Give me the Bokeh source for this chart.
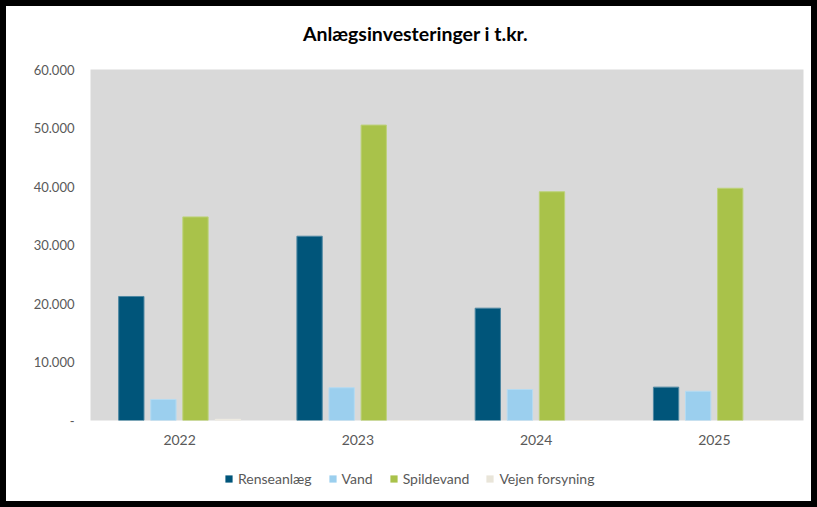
from bokeh.plotting import figure
from bokeh.layouts import column
from bokeh.models import ColumnDataSource, FactorRange, Range1d, FixedTicker, Legend, LegendItem, Label
from bokeh.transform import dodge
from bokeh.embed import file_html
from bokeh.resources import INLINE

years = ["2022", "2023", "2024", "2025"]
series_names = ["Renseanlæg", "Vand", "Spildevand", "Vejen forsyning"]
renseanlaeg = [21200, 31500, 19200, 5700]
vand = [3600, 5600, 5300, 5000]
spildevand = [34800, 50500, 39100, 39700]
vejen_forsyning = [200, 0, 0, 0]
y_ticks = [0, 10000, 20000, 30000, 40000, 50000, 60000]
title_text = "Anlægsinvesteringer i t.kr."

colors = ["#00557A", "#9BCFEE", "#A9C24A", "#E9E5D9"]
line_colors = ["#4D87A2", "#B5DBF2", "#BDD27A", "#EFECE3"]

src = ColumnDataSource(dict(year=years, r=renseanlaeg, v=vand, s=spildevand, vf=vejen_forsyning))

FONT = "Lato"
GRAY = "#595959"
BORDER = "6px solid black"


def strip(height, borders):
    f = figure(width=817, height=height, output_backend="svg", toolbar_location=None,
               x_axis_location=None, y_axis_location=None, min_border=0,
               x_range=FactorRange(*years, range_padding=0), y_range=Range1d(1e6, 2e6))
    f.styles = dict({b: BORDER for b in borders}, **{"box-sizing": "border-box"})
    f.grid.visible = False
    f.outline_line_color = None
    f.background_fill_color = "white"
    f.border_fill_color = "white"
    return f


# title strip
top = strip(50, ["border-top", "border-left", "border-right"])
top.add_layout(Label(x=325, y=23, x_units="screen", y_units="screen", text=title_text,
                     text_align="center", text_baseline="middle", text_font=FONT,
                     text_font_size="19.5px", text_font_style="bold", text_color="black"))

# main chart
p = figure(width=817, height=405, x_range=FactorRange(*years, range_padding=0),
           y_range=Range1d(0, 60000), output_backend="svg", toolbar_location=None,
           min_border_left=84, min_border_right=20, min_border_top=19, min_border_bottom=35)
p.styles = {"border-left": BORDER, "border-right": BORDER, "box-sizing": "border-box"}
p.background_fill_color = "#D9D9D9"
p.border_fill_color = "white"
p.outline_line_color = None
p.xgrid.grid_line_color = None
p.ygrid.grid_line_color = None

offsets = [-0.271, -0.091, 0.089, 0.271]
cols = ["r", "v", "s", "vf"]
for off, col, fc, lc in zip(offsets, cols, colors, line_colors):
    p.vbar(x=dodge("year", off, range=p.x_range), top=col, width=0.142, source=src,
           fill_color=fc, line_color=lc, line_width=1)

p.yaxis.ticker = FixedTicker(ticks=y_ticks)
p.yaxis.major_label_overrides = {t: ("-" if t == 0 else f"{t:,}".replace(",", ".")) for t in y_ticks}
for ax in (p.xaxis[0], p.yaxis[0]):
    ax.axis_line_color = None
    ax.major_tick_line_color = None
    ax.minor_tick_line_color = None
    ax.major_tick_out = 0
    ax.major_tick_in = 0
    ax.major_label_text_font = FONT
    ax.major_label_text_color = GRAY
p.yaxis.major_label_standoff = 16
p.xaxis.major_label_standoff = 14
p.yaxis.major_label_text_font_size = "13px"
p.xaxis.major_label_text_font_size = "14px"

# legend strip (its key bars are zero-height and lie outside its y range)
lg = strip(52, ["border-bottom", "border-left", "border-right"])
legend_renderers = []
for off, col, fc in zip(offsets, cols, colors):
    legend_renderers.append(lg.vbar(x=dodge("year", off, range=lg.x_range), top=col, bottom=col,
                                    width=0.142, source=src, fill_color=fc, line_color=None))

legend = Legend(items=[LegendItem(label=n, renderers=[r]) for n, r in zip(series_names, legend_renderers)],
                orientation="horizontal", location=(134, 20), border_line_color=None,
                background_fill_alpha=0, label_text_font=FONT, label_text_font_size="14px",
                label_text_color=GRAY, glyph_width=9, glyph_height=9, spacing=16,
                label_standoff=5, padding=0, margin=0)
lg.add_layout(legend, "center")

layout = column(top, p, lg, spacing=0)

open("out.html", "w").write(file_html(layout, INLINE))
